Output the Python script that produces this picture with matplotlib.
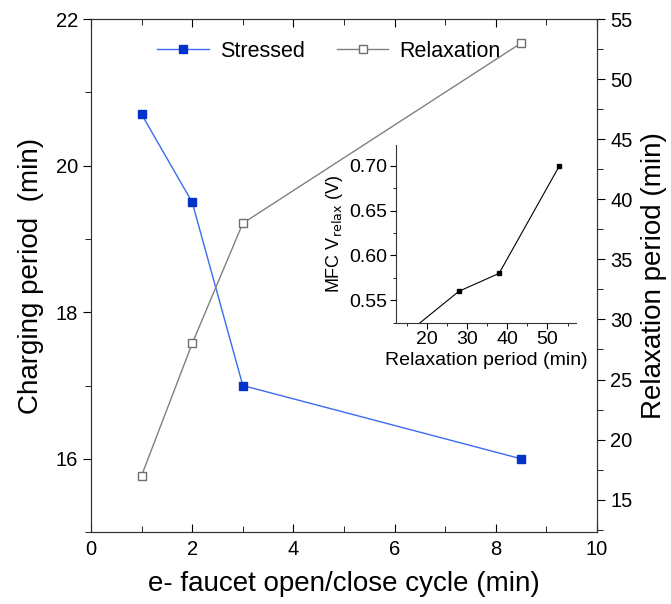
import matplotlib.pyplot as plt
from matplotlib.ticker import MultipleLocator

plt.rcParams['font.family'] = ['Liberation Sans', 'DejaVu Sans']

# Main data
cycle = [1, 2, 3, 8.5]
charging = [20.7, 19.5, 17.0, 16.0]
relaxation = [17, 28, 38, 53]

# Inset data
relax_period = [17, 28, 38, 53]
v_relax = [0.52, 0.56, 0.58, 0.70]

fig = plt.figure(figsize=(6.71, 6.04), dpi=100)
ax = fig.add_axes([0.1356, 0.119, 0.7542, 0.8495])
ax2 = ax.twinx()

ax.plot(cycle, charging, color='#3a6cf0', linewidth=1, marker='s', markersize=6,
        markerfacecolor='#0033cc', markeredgecolor='#0033cc', label='Stressed', zorder=3)
ax2.plot(cycle, relaxation, color='#808080', linewidth=1, marker='s', markersize=6,
         markerfacecolor='white', markeredgecolor='#707070', label='Relaxation')

ax.set_xlim(0, 10)
ax.set_ylim(15, 22)
ax2.set_ylim(12.3, 55)

ax.xaxis.set_major_locator(MultipleLocator(2))
ax.xaxis.set_minor_locator(MultipleLocator(1))
ax.yaxis.set_major_locator(MultipleLocator(2))
ax.yaxis.set_minor_locator(MultipleLocator(1))
ax2.yaxis.set_major_locator(MultipleLocator(5))
ax2.yaxis.set_minor_locator(MultipleLocator(2.5))

ax.tick_params(axis='x', which='both', direction='in', top=True, labelsize=14.5, pad=6)
ax.tick_params(axis='x', which='major', length=6)
ax.tick_params(axis='x', which='minor', length=4)
ax.tick_params(axis='y', which='both', direction='out', labelsize=14.5)
ax.tick_params(axis='y', which='major', length=6)
ax.tick_params(axis='y', which='minor', length=4)
ax2.tick_params(axis='y', which='both', direction='out', labelsize=14.5)
ax2.tick_params(axis='y', which='major', length=6)
ax2.tick_params(axis='y', which='minor', length=4)

for a in (ax, ax2):
    for s in a.spines.values():
        s.set_color('#333333')
        s.set_linewidth(0.8)

ax.set_xlabel('e- faucet open/close cycle (min)', fontsize=20, labelpad=8)
ax.set_ylabel('Charging period  (min)', fontsize=20, labelpad=8)
ax2.set_ylabel('Relaxation period (min)', fontsize=20, labelpad=6)

h1, l1 = ax.get_legend_handles_labels()
h2, l2 = ax2.get_legend_handles_labels()
ax.legend(h1 + h2, l1 + l2, loc='upper center', bbox_to_anchor=(0.47, 0.995), ncol=2,
          frameon=False, fontsize=15.5, handlelength=2.4, handletextpad=0.5,
          columnspacing=1.5)

# Inset
ins = fig.add_axes([0.5897, 0.4657, 0.2687, 0.2942])
ins.plot(relax_period, v_relax, color='black', linewidth=0.8, marker='s', markersize=2.5)
ins.set_xlim(12.3, 57.1)
ins.set_ylim(0.525, 0.723)
ins.xaxis.set_major_locator(MultipleLocator(10))
ins.xaxis.set_minor_locator(MultipleLocator(5))
ins.yaxis.set_major_locator(MultipleLocator(0.05))
ins.yaxis.set_minor_locator(MultipleLocator(0.025))
ins.yaxis.set_major_formatter(plt.FormatStrFormatter('%.2f'))
ins.tick_params(axis='both', which='both', labelsize=14, pad=2)
ins.tick_params(axis='both', which='major', length=4)
ins.tick_params(axis='both', which='minor', length=2.5)
ins.spines['top'].set_visible(False)
ins.spines['right'].set_visible(False)
for s in ('left', 'bottom'):
    ins.spines[s].set_color('#333333')
    ins.spines[s].set_linewidth(0.8)
ins.patch.set_alpha(0)
ins.set_xlabel('Relaxation period (min)', fontsize=14, labelpad=3)
ins.set_ylabel('MFC V$_{\\mathrm{relax}}$ (V)', fontsize=13, labelpad=3)

fig.savefig('out.png', dpi=100)
